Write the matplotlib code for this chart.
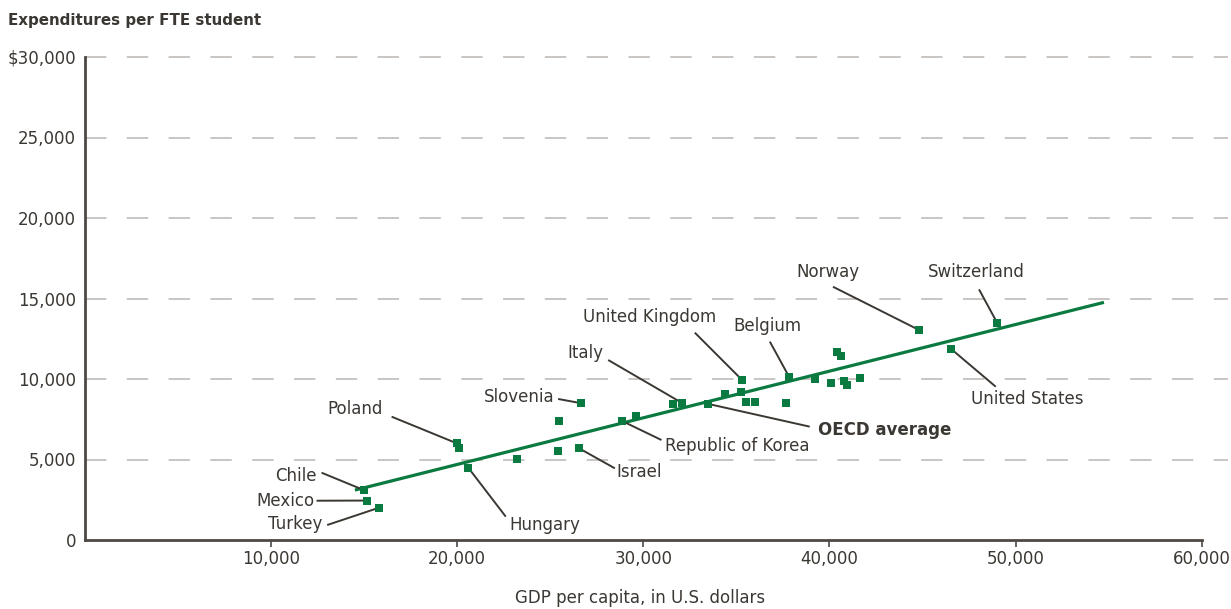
import matplotlib
matplotlib.use("Agg")
import matplotlib.pyplot as plt

# ---------------- data ----------------
gdp = [15000, 15150, 15800, 20000, 20100, 20600, 23200, 25400, 26550, 25500,
       26650, 28850, 29600, 31600, 32100, 33500, 34400, 35250, 35300, 35500,
       36000, 37650, 37850, 39250, 40100, 40400, 40600, 40800, 40950, 41650,
       44800, 49000, 46550]
spend = [3100, 2450, 2000, 6000, 5700, 4500, 5050, 5500, 5700, 7400,
         8500, 7400, 7700, 8450, 8500, 8450, 9050, 9200, 9950, 8550,
         8550, 8500, 10100, 10000, 9750, 11700, 11400, 9850, 9600, 10050,
         13050, 13500, 11850]
# labelled countries: index of point in the arrays above
label_names = ["Chile", "Mexico", "Turkey", "Poland", "Hungary", "Slovenia",
               "Israel", "Republic of Korea", "Italy", "OECD average",
               "United Kingdom", "Belgium", "Norway", "Switzerland",
               "United States"]
label_idx = [0, 1, 2, 3, 5, 10, 8, 11, 14, 15, 18, 22, 30, 31, 32]

trend_x = [14520, 54740]
trend_y = [3100, 14760]

x_ticks = [10000, 20000, 30000, 40000, 50000, 60000]
x_tick_labels = ["10,000", "20,000", "30,000", "40,000", "50,000", "60,000"]
y_ticks = [0, 5000, 10000, 15000, 20000, 25000, 30000]
y_tick_labels = ["0", "5,000", "10,000", "15,000", "20,000", "25,000", "$30,000"]

# ---------------- layout of labels (text anchor, ha, leader far end) ------
label_layout = {
    "Chile":             ((12480, 3980), "right", (12730, 4180)),
    "Mexico":            ((12370, 2400), "right", (12460, 2440)),
    "Turkey":            ((12750, 990),  "right", (13030, 930)),
    "Poland":            ((13030, 8120), "left",  (16490, 7660)),
    "Hungary":           ((22840, 930),  "left",  (22620, 1450)),
    "Slovenia":          ((25250, 8860), "right", (25430, 8760)),
    "Israel":            ((28570, 4240), "left",  (28480, 4450)),
    "Republic of Korea": ((31160, 5860), "left",  (30980, 6210)),
    "Italy":             ((27850, 11600), "right", (28120, 11180)),
    "OECD average":      ((39390, 6830), "left",  (38940, 7040)),
    "United Kingdom":    ((26770, 13870), "left", (32770, 12880)),
    "Belgium":           ((34830, 13290), "left", (36800, 12320)),
    "Norway":            ((38230, 16670), "left", (40190, 15730)),
    "Switzerland":       ((45290, 16670), "left", (48030, 15570)),
    "United States":     ((47620, 8740), "left",  (48930, 9520)),
}

GREEN = "#0b7a40"
TXT = "#3b3733"
AX = "#4d4843"
GRID = "#c8c5c2"
FS = 12

plt.rcParams["font.family"] = ["DejaVu Sans"]

fig = plt.figure(figsize=(12.31, 6.09), dpi=100)
W, H = 1231, 609
left_px, right_px, top_px, bot_px = 84.5, 1228, 57, 540
ax = fig.add_axes([left_px / W, 1 - bot_px / H, (right_px - left_px) / W,
                   (bot_px - top_px) / H])
ax.set_xlim(0, 61400)
ax.set_ylim(0, 30000)

# gridlines
for yv in y_ticks[1:]:
    ax.axhline(yv, color=GRID, lw=1.4, linestyle=(0, (11, 10.5)),
               zorder=1, clip_on=False)

# spines
for s in ["top", "right"]:
    ax.spines[s].set_visible(False)
ax.spines["left"].set_color(AX)
ax.spines["bottom"].set_color(AX)
ax.spines["left"].set_linewidth(2.0)
ax.spines["bottom"].set_linewidth(2.0)
ax.spines["bottom"].set_bounds(0, 60000)
ax.spines["left"].set_bounds(0, 30000)
ax.spines["left"].set_zorder(5)
ax.spines["bottom"].set_zorder(5)

ax.set_xticks(x_ticks)
ax.set_xticklabels(x_tick_labels)
ax.set_yticks(y_ticks)
ax.set_yticklabels(y_tick_labels)
ax.tick_params(axis="x", length=5, width=1.2, color=AX, labelcolor=TXT,
               labelsize=FS, pad=2)
ax.tick_params(axis="y", length=0, labelcolor=TXT, labelsize=FS, pad=6)

# trend line
ax.plot(trend_x, trend_y, color=GREEN, lw=2.3, zorder=3, solid_capstyle="butt")

# points
ax.plot(gdp, spend, linestyle="none", marker="s", markersize=5.2,
        color=GREEN, markeredgewidth=0, zorder=4)

# labels and leaders
for name, i in zip(label_names, label_idx):
    (tx, ty), ha, (lx, ly) = label_layout[name]
    ax.plot([gdp[i], lx], [spend[i], ly], color=TXT, lw=1.4, zorder=3.5,
            solid_capstyle="butt")
    ax.text(tx, ty, name, ha=ha, va="center", fontsize=FS, color=TXT,
            fontweight="bold" if name == "OECD average" else "normal",
            zorder=6)

fig.text(8 / W, 1 - 20 / H, "Expenditures per FTE student", ha="left",
         va="center", fontsize=10.9, color=TXT, fontweight="semibold")
fig.text(640 / W, 1 - 598 / H, "GDP per capita, in U.S. dollars", ha="center",
         va="center", fontsize=FS, color=TXT)

fig.savefig("out.png", dpi=100, facecolor="white")
